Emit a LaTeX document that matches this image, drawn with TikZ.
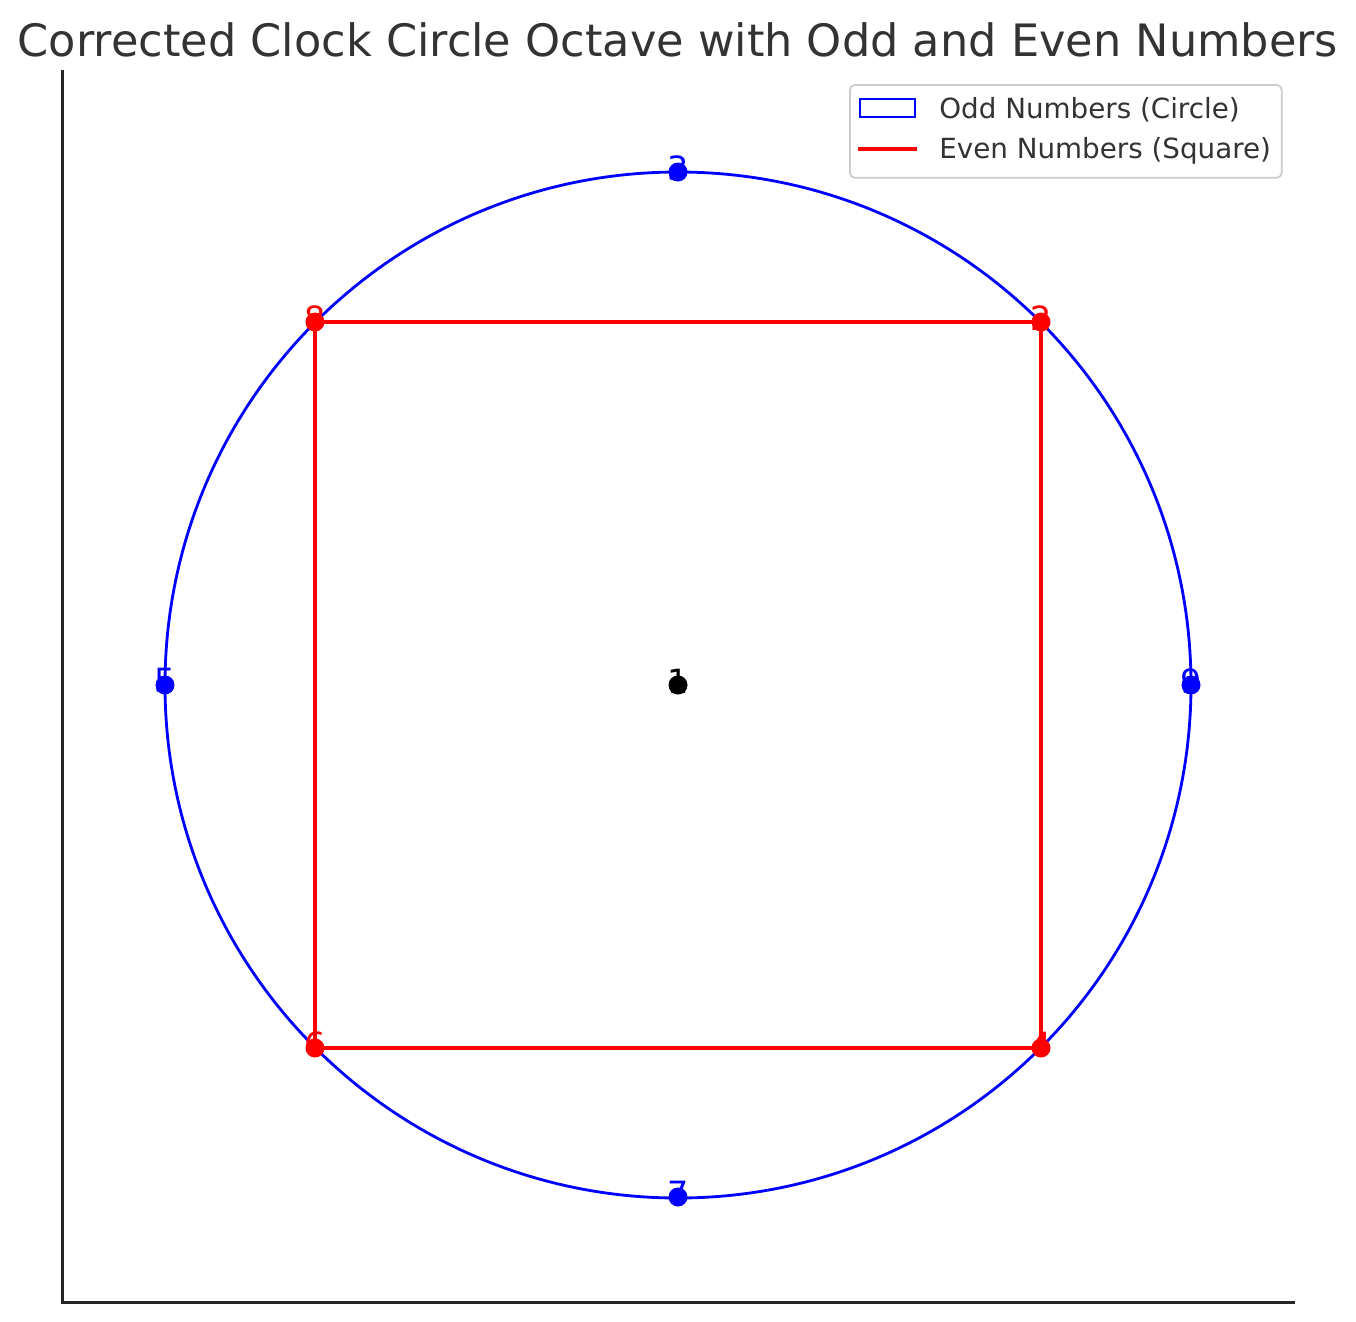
\documentclass[tikz,border=0pt]{standalone}
\usepackage{fontspec}
\setmainfont{DejaVu Sans}
\definecolor{body}{RGB}{51,51,51}
\definecolor{spine}{RGB}{38,38,38}
\definecolor{oddBlue}{RGB}{0,0,255}
\definecolor{evenRed}{RGB}{255,0,0}
\definecolor{frame}{RGB}{204,204,204}

\begin{document}
\begin{tikzpicture}[x=0.02cm, y=-0.02cm,
  dot/.style={circle, inner sep=0pt, minimum size=0.38cm},
  numlabel/.style={font=\fontsize{19}{22}\selectfont, inner sep=0pt},
  legtext/.style={font=\fontsize{15.8}{18}\selectfont, text=body, anchor=base west, inner sep=0pt}]

\useasboundingbox (0,0) rectangle (1356,1322);

% ── Title ──
\node[font=\fontsize{25.4}{30}\selectfont, text=body, anchor=base] (title) at (678,56) {Corrected Clock Circle Octave with Odd and Even Numbers};

% ── Axes ──
\coordinate (axtop) at (62.5,70);
\coordinate (axorigin) at (62.5,1302);
\coordinate (axright) at (1295,1302);
\draw[spine, line width=1.7pt] (axtop) -- (axorigin) -- (axright);

% ── Circle (odd) ──
\coordinate (centre) at (678,685);
\draw[oddBlue, line width=1.6pt] (centre) circle [radius=513];

% ── Square (even) ──
\foreach \name/\x/\y in {c8/315/322, c2/1041/322, c4/1041/1048, c6/315/1048} {
  \coordinate (\name) at (\x,\y);
}
\draw[evenRed, line width=2.2pt, line join=round] (c8) -- (c2) -- (c4) -- (c6) -- cycle;

% ── Labels, then dots on top ──
\foreach \n/\x/\y/\col in {3/678/172/oddBlue, 5/165/685/oddBlue, 7/678/1197/oddBlue, 9/1191/685/oddBlue,
                           2/1041/322/evenRed, 4/1041/1048/evenRed, 6/315/1048/evenRed, 8/315/322/evenRed,
                           1/678/685/black} {
  \node[numlabel, text=\col] (lab\n) at (\x,\y-4) {\n};
  \node[dot, fill=\col] (pt\n) at (\x,\y) {};
}

% ── Legend ──
\node[draw=frame, line width=1pt, fill=white, rounded corners=3pt, minimum width=8.64cm, minimum height=1.86cm, anchor=north west] (legend) at (849,84) {};
\node[draw=oddBlue, line width=1.2pt, minimum width=1.1cm, minimum height=0.36cm, inner sep=0pt] (oddkey) at (887.5,108) {};
\node[legtext] (oddtext) at (939,118) {Odd Numbers (Circle)};
\coordinate (evenkeyA) at (858,149);
\coordinate (evenkeyB) at (917,149);
\draw[evenRed, line width=2.2pt] (evenkeyA) -- (evenkeyB);
\node[legtext] (eventext) at (939,158) {Even Numbers (Square)};

\end{tikzpicture}
\end{document}
